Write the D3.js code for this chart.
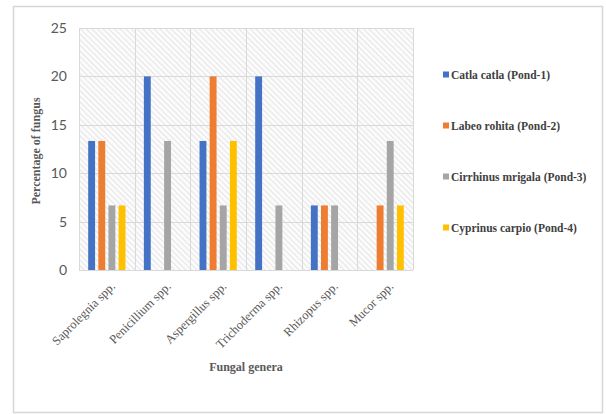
<!DOCTYPE html>
<html>
<head>
<meta charset="utf-8">
<script src="https://cdn.jsdelivr.net/npm/d3@7/dist/d3.min.js"></script>
<style>
  html, body { margin: 0; padding: 0; background: #fff; }
  svg { display: block; }
</style>
</head>
<body>
<svg id="chart" width="606" height="414"></svg>
<script>
// Fungal genera isolated from four ponds (% of isolates)
const genera = ["Saprolegnia spp.", "Penicillium spp.", "Aspergillus spp.", "Trichoderma spp.", "Rhizopus spp.", "Mucor spp."];
const seriesNames = ["Catla catla (Pond-1)", "Labeo rohita (Pond-2)", "Cirrhinus mrigala (Pond-3)", "Cyprinus carpio (Pond-4)"];
const pond1 = [13.33, 20, 13.33, 20, 6.67, 0];
const pond2 = [13.33, 0, 20, 0, 6.67, 6.67];
const pond3 = [6.67, 13.33, 6.67, 6.67, 6.67, 13.33];
const pond4 = [6.67, 0, 13.33, 0, 0, 6.67];
const yTicks = [0, 5, 10, 15, 20, 25];
const colors = ["#4472C4", "#ED7D31", "#A5A5A5", "#FFC000"];

const seriesValues = [pond1, pond2, pond3, pond4];

const svg = d3.select("#chart");

// outer chart frame
svg.append("rect")
  .attr("x", 13.5).attr("y", 6.5)
  .attr("width", 589).attr("height", 406)
  .attr("fill", "#fff")
  .attr("stroke", "#d6d6d6")
  .attr("stroke-width", 1.5);

const plot = { left: 79, right: 413, top: 28, bottom: 270 };

const x0 = d3.scaleBand().domain(genera).range([plot.left, plot.right]).padding(0);
const groupPad = 9.2;
const x1 = d3.scaleBand().domain(seriesNames)
  .range([groupPad, x0.bandwidth() - groupPad])
  .paddingInner(0.32).paddingOuter(0);
const y = d3.scaleLinear().domain([0, 25]).range([plot.bottom, plot.top]);

// diagonal hatch fill for the plot area
const defs = svg.append("defs");
const pat = defs.append("pattern")
  .attr("id", "hatch")
  .attr("patternUnits", "userSpaceOnUse")
  .attr("width", 4).attr("height", 4)
  .attr("patternTransform", "rotate(-45)");
pat.append("rect").attr("width", 4).attr("height", 4).attr("fill", "#fbfbfb");
pat.append("line")
  .attr("x1", 0).attr("y1", 0).attr("x2", 0).attr("y2", 4)
  .attr("stroke", "#dcdcdc").attr("stroke-width", 1.4);

svg.append("rect")
  .attr("x", plot.left).attr("y", plot.top)
  .attr("width", plot.right - plot.left).attr("height", plot.bottom - plot.top)
  .attr("fill", "url(#hatch)");

// gridlines
const grid = svg.append("g").attr("stroke", "#d9d9d9").attr("stroke-width", 1);
grid.selectAll("line.h").data(yTicks).join("line")
  .attr("x1", plot.left).attr("x2", plot.right)
  .attr("y1", d => Math.round(y(d)) + 0.5).attr("y2", d => Math.round(y(d)) + 0.5);
const vlines = genera.map(g => x0(g)).concat([plot.right]);
grid.selectAll("line.v").data(vlines).join("line")
  .attr("y1", plot.top).attr("y2", plot.bottom)
  .attr("x1", d => Math.round(d) + 0.5).attr("x2", d => Math.round(d) + 0.5);

// bars
const groups = svg.append("g").selectAll("g").data(genera).join("g")
  .attr("transform", g => `translate(${x0(g)},0)`);
groups.selectAll("rect")
  .data((g, gi) => seriesNames.map((s, si) => ({ s, si, v: seriesValues[si][gi] })))
  .join("rect")
  .attr("x", d => x1(d.s))
  .attr("width", x1.bandwidth())
  .attr("y", d => y(d.v))
  .attr("height", d => y(0) - y(d.v))
  .attr("fill", d => colors[d.si]);

// y axis labels
const yAxis = d3.axisLeft(y).tickValues(yTicks).tickSize(0).tickPadding(12);
const yg = svg.append("g").attr("transform", `translate(${plot.left},0)`).call(yAxis);
yg.select(".domain").remove();
yg.selectAll("text")
  .attr("font-family", "Lato, 'Open Sans', sans-serif")
  .attr("font-size", 14)
  .attr("fill", "#595959");

// x axis labels, rotated
const xAxis = d3.axisBottom(x0).tickSize(0).tickPadding(0);
const xg = svg.append("g").attr("transform", `translate(0,${plot.bottom})`).call(xAxis);
xg.select(".domain").remove();
xg.selectAll("text")
  .attr("font-family", "'Liberation Serif', 'Times New Roman', serif")
  .attr("font-size", 12.5)
  .attr("fill", "#595959")
  .attr("text-anchor", "end")
  .attr("dy", "0.35em")
  .attr("transform", "translate(6,14) rotate(-45)");

// axis titles
svg.append("text")
  .attr("transform", `translate(40,${(plot.top + plot.bottom) / 2 + 2}) rotate(-90)`)
  .attr("text-anchor", "middle")
  .attr("font-family", "'Liberation Serif', 'Times New Roman', serif")
  .attr("font-weight", "bold")
  .attr("font-size", 12)
  .attr("fill", "#595959")
  .text("Percentage of fungus");

svg.append("text")
  .attr("x", (plot.left + plot.right) / 2)
  .attr("y", 371)
  .attr("text-anchor", "middle")
  .attr("font-family", "'Liberation Serif', 'Times New Roman', serif")
  .attr("font-weight", "bold")
  .attr("font-size", 12)
  .attr("fill", "#595959")
  .text("Fungal genera");

// legend
const legend = svg.append("g").selectAll("g").data(seriesNames).join("g")
  .attr("transform", (d, i) => `translate(443,${75 + i * 51})`);
legend.append("rect")
  .attr("x", 0).attr("y", -3.5).attr("width", 6).attr("height", 6)
  .attr("fill", (d, i) => colors[i]);
legend.append("text")
  .attr("x", 8).attr("y", 0).attr("dy", "0.35em")
  .attr("font-family", "'Liberation Serif', 'Times New Roman', serif")
  .attr("font-weight", "bold")
  .attr("font-size", 11.5)
  .attr("fill", "#404040")
  .text(d => d);
</script>
</body>
</html>
